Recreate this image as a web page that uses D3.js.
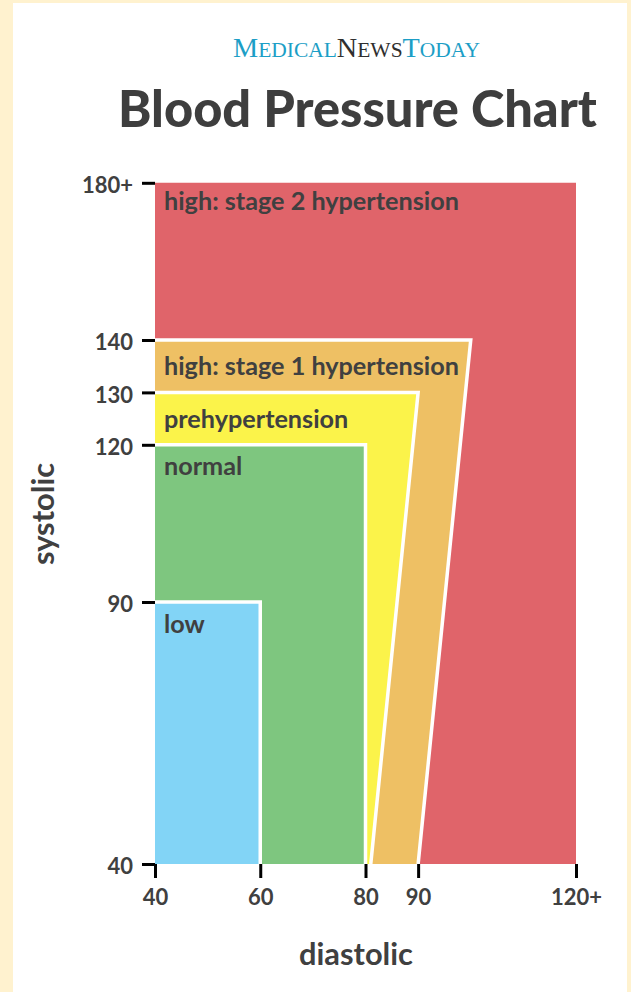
<!DOCTYPE html>
<html>
<head>
<meta charset="utf-8">
<script src="https://cdn.jsdelivr.net/npm/d3@7"></script>
<style>
  html, body { margin: 0; padding: 0; background: #fff2cf; }
  svg { display: block; }
</style>
</head>
<body>
<svg id="chart" width="631" height="992"></svg>
<script>
// ---------- data ----------
const systolicTicks = [40, 90, 120, 130, 140, 170];
const systolicTickLabels = ["40", "90", "120", "130", "140", "180+"];
const diastolicTicks = [40, 60, 80, 90, 120];
const diastolicTickLabels = ["40", "60", "80", "90", "120+"];

const zoneNames = ["high: stage 2 hypertension", "high: stage 1 hypertension", "prehypertension", "normal", "low"];
const zoneTopSystolic = [170, 140, 130, 120, 90];      // upper edge of each zone
const zoneTopDiastolic = [120, 100, 90, 80, 60];       // right edge at the upper edge
const zoneBottomDiastolic = [120, 90, 81, 80, 60];     // right edge at systolic 40
const axisMin = 40;

// ---------- styles ----------
const zoneColors = ["#e0646a", "#eec064", "#fbf34a", "#7ec67f", "#82d4f6"];
const textColor = "#404040";
const labelDy = [27, 35, 36, 30, 31];

const svg = d3.select("#chart");

// background panels
svg.append("rect").attr("x", 0).attr("y", 0).attr("width", 631).attr("height", 992).attr("fill", "#fff2cf");
svg.append("rect").attr("x", 13).attr("y", 3).attr("width", 614).attr("height", 989).attr("fill", "#ffffff");

// scales
const x = d3.scaleLinear().domain([40, 120]).range([155, 576]);
const y = d3.scaleLinear().domain([40, 140]).range([864, 340]);

const line = d3.line().x(d => x(d[0])).y(d => y(d[1]));

// zones
const zones = zoneNames.map((name, i) => ({
  name, color: zoneColors[i],
  top: zoneTopSystolic[i], topD: zoneTopDiastolic[i], botD: zoneBottomDiastolic[i], i
}));

const gZones = svg.append("g");
zones.forEach(z => {
  gZones.append("path")
    .attr("d", line([[axisMin, axisMin], [axisMin, z.top], [z.topD, z.top], [z.botD, axisMin]]) + "Z")
    .attr("fill", z.color);
  if (z.i > 0) {
    gZones.append("path")
      .attr("d", line([[axisMin, z.top], [z.topD, z.top], [z.botD, axisMin]]))
      .attr("fill", "none")
      .attr("stroke", "#ffffff")
      .attr("stroke-width", 3.5)
      .attr("stroke-linejoin", "miter");
  }
});

// zone labels
const labelFont = "Lato, 'Open Sans', sans-serif";
const gLabels = svg.append("g");
const zl = gLabels.selectAll("text").data(zones).join("text")
  .attr("x", x(axisMin) + 9)
  .attr("y", (d, i) => y(d.top) + labelDy[i])
  .attr("font-family", labelFont)
  .attr("font-weight", 700)
  .attr("font-size", 20)
  .attr("fill", textColor)
  .text(d => d.name);
{
  const w = zl.nodes()[1].getComputedTextLength();
  const fs = 20 * 295 / w;
  zl.attr("font-size", fs);
}

// axes
const yAxis = d3.axisLeft(y)
  .tickValues(systolicTicks)
  .tickFormat((d, i) => systolicTickLabels[i])
  .tickSize(13)
  .tickPadding(9);
const gy = svg.append("g").attr("transform", `translate(${x(axisMin)},0)`).call(yAxis);
gy.select(".domain").remove();
gy.selectAll(".tick line").attr("stroke", "#000").attr("stroke-width", 3);
gy.selectAll(".tick text")
  .attr("font-family", labelFont).attr("font-weight", 700).attr("font-size", 22)
  .attr("fill", textColor).attr("dy", "0.45em");

const xAxis = d3.axisBottom(x)
  .tickValues(diastolicTicks)
  .tickFormat((d, i) => diastolicTickLabels[i])
  .tickSize(14)
  .tickPadding(9);
const gx = svg.append("g").attr("transform", `translate(0,${y(axisMin)})`).call(xAxis);
gx.select(".domain").remove();
gx.selectAll(".tick line").attr("stroke", "#000").attr("stroke-width", 3);
gx.selectAll(".tick text")
  .attr("font-family", labelFont).attr("font-weight", 700).attr("font-size", 22)
  .attr("fill", textColor).attr("y", 41).attr("dy", 0);

// axis titles
const xt = svg.append("text")
  .attr("x", 356).attr("y", 965)
  .attr("text-anchor", "middle")
  .attr("font-family", labelFont).attr("font-weight", 700).attr("font-size", 26)
  .attr("fill", textColor).text("diastolic");
xt.attr("font-size", 26 * 114 / xt.node().getComputedTextLength());

const yt = svg.append("text")
  .attr("transform", "translate(54,514) rotate(-90)")
  .attr("text-anchor", "middle")
  .attr("font-family", labelFont).attr("font-weight", 700).attr("font-size", 26)
  .attr("fill", textColor).text("systolic");
yt.attr("font-size", xt.attr("font-size"));

// title
const title = svg.append("text")
  .attr("x", 118).attr("y", 127)
  .attr("font-family", labelFont).attr("font-weight", 900).attr("font-size", 44)
  .attr("fill", "#3e3e3e").text("Blood Pressure Chart");
title.attr("font-size", 44 * 479 / title.node().getComputedTextLength());

// logo
const teal = "#1c9ec6", dark = "#2f2f2f";
const logo = svg.append("text")
  .attr("x", 233).attr("y", 57)
  .attr("font-family", "'Liberation Serif', 'DejaVu Serif', serif");
const parts = [["M", teal, 1], ["EDICAL", teal, 0.76], ["N", dark, 1], ["EWS", dark, 0.76], ["T", teal, 1], ["ODAY", teal, 0.76]];
parts.forEach(p => logo.append("tspan").attr("fill", p[1]).attr("data-r", p[2]).attr("font-size", 27 * p[2]).text(p[0]));
{
  const w = logo.node().getComputedTextLength();
  const k = 247 / w;
  logo.selectAll("tspan").attr("font-size", function () { return 27 * k * (+this.getAttribute("data-r")); });
}
</script>
</body>
</html>
